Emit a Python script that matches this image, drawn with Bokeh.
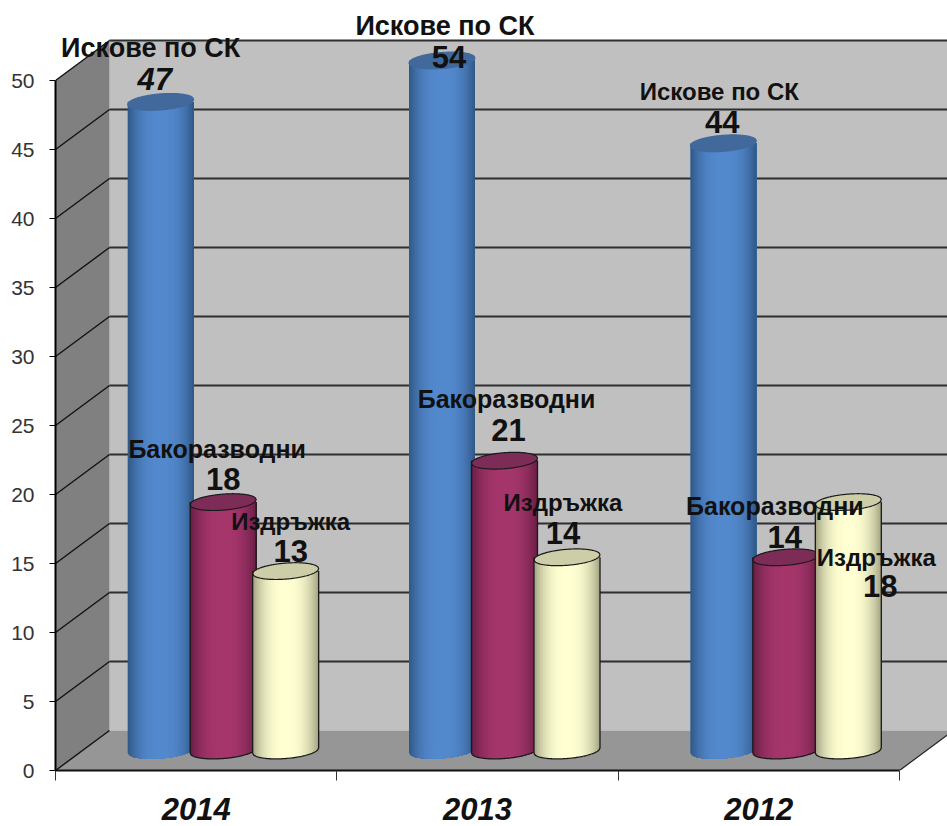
import numpy as np
from bokeh.plotting import figure
from bokeh.models import Range1d, LinearAxis, FixedTicker
from bokeh.core.properties import value as V
from bokeh.embed import file_html
from bokeh.resources import INLINE

# ---- data ----
YEARS = ["2014", "2013", "2012"]
SERIES_NAMES = ["Искове по СК", "Бакоразводни", "Издръжка"]
ISKOVE = [47, 54, 44]
BAKORAZVODNI = [18, 21, 14]
IZDRAJKA = [13, 14, 18]
Y_TICKS = [0, 5, 10, 15, 20, 25, 30, 35, 40, 45, 50]
AXIS_MAX = 50

# ---- styling ----
BAR_EDGE = ["#2f5685", "#661d44", "#a0a080"]
BAR_MID = ["#5389cd", "#a5366b", "#ffffd2"]
BAR_TOP = ["#41699c", "#7c2c57", "#cdcda8"]
BAR_OUTLINE = [None, "#1a1a1a", "#1a1a1a"]

PX_X = 281.33            # pixels per category
PX_Y = 13.8              # pixels per value unit
DEPTH_X = 54 / PX_X
DEPTH_Y = 40 / PX_Y
W, H = 947, 826
L, B = 55, 56
xmax = (W - L) / PX_X
ymax = (H - B) / PX_Y

p = figure(width=W, height=H, output_backend="svg", toolbar_location=None,
           x_range=Range1d(0, xmax), y_range=Range1d(0, ymax),
           x_axis_type=None, y_axis_type=None, min_border_left=L, min_border_bottom=B,
           min_border_right=0, min_border_top=0, outline_line_color=None)
p.grid.visible = False
p.background_fill_color = "white"

# walls and floor
p.patch([DEPTH_X, DEPTH_X + 3, DEPTH_X + 3, DEPTH_X],
        [DEPTH_Y, DEPTH_Y, AXIS_MAX + DEPTH_Y, AXIS_MAX + DEPTH_Y],
        fill_color="#c0c0c0", line_color=None)
p.patch([0, DEPTH_X, DEPTH_X, 0], [0, DEPTH_Y, AXIS_MAX + DEPTH_Y, AXIS_MAX],
        fill_color="#808080", line_color=None)
p.patch([0, 3, 3 + DEPTH_X, DEPTH_X], [0, 0, DEPTH_Y, DEPTH_Y],
        fill_color="#969696", line_color=None)
p.line([3, 3 + DEPTH_X], [0, DEPTH_Y], line_color="#222222", line_width=1.2)

# grid
for t in Y_TICKS[1:]:
    p.line([DEPTH_X, DEPTH_X + 3], [t + DEPTH_Y, t + DEPTH_Y], line_color="#2e2e2e", line_width=2)
for t in Y_TICKS:
    p.line([0, DEPTH_X], [t, t + DEPTH_Y], line_color="#111111", line_width=1.4)

# cylinders
BAR_W = 66 / PX_X
STEP = 62.5 / PX_X
ELL_B = 8 / PX_Y
ELL_TILT = 2.5 / PX_Y
N = 44
tt = np.linspace(-1, 1, N + 1)


def ell_lower(c, t):
    return c + ELL_TILT * t - ELL_B * np.sqrt(np.clip(1 - t * t, 0, 1))


def ell_upper(c, t):
    return c + ELL_TILT * t + ELL_B * np.sqrt(np.clip(1 - t * t, 0, 1))


def mix(a, b, f):
    ca = [int(a[i:i + 2], 16) for i in (1, 3, 5)]
    cb = [int(b[i:i + 2], 16) for i in (1, 3, 5)]
    return "#%02x%02x%02x" % tuple(int(round(x + (y - x) * f)) for x, y in zip(ca, cb))


SERIES = [ISKOVE, BAKORAZVODNI, IZDRAJKA]
base = DEPTH_Y / 2
for gi in range(len(YEARS)):
    gc = gi + 0.5 + DEPTH_X / 2
    for si, vals in enumerate(SERIES):
        cx = gc + (si - 1) * STEP
        hw = BAR_W / 2
        top = min(vals[gi], AXIS_MAX) + base
        xs, ys, cols = [], [], []
        for k in range(N):
            tc = (tt[k] + tt[k + 1]) / 2
            f = 1 - min(abs(tc) / 1.0, 1) ** 2.6
            rest = tt[k:]
            xs.append(list(cx + rest * hw) + [cx + hw, cx + tt[k] * hw])
            ys.append(list(ell_lower(base, rest)) + [top, top])
            cols.append(mix(BAR_EDGE[si], BAR_MID[si], f))
        p.patches(xs, ys, fill_color=cols, line_color=None)
        fine = np.linspace(-1, 1, 81)
        ex = list(cx + fine * hw) + list(cx + fine[::-1] * hw)
        ey = list(ell_lower(top, fine)) + list(ell_upper(top, fine[::-1]))
        p.patch(ex, ey, fill_color=BAR_TOP[si], line_color=BAR_OUTLINE[si] or BAR_TOP[si], line_width=1.2)
        if BAR_OUTLINE[si]:
            ox = [cx - hw] + list(cx + fine * hw) + [cx + hw]
            oy = [top] + list(ell_lower(base, fine)) + [top]
            p.line(ox, oy, line_color=BAR_OUTLINE[si], line_width=1.3)

# labels: pixel offsets from each bar's top centre
NAME_OFF = [[(-10, -54), (3, -35), (-4, -52)],
            [(-6, -53), (2, -62), (-11, -51)],
            [(5, -50), (-4, -55), (28, 55)]]
VAL_OFF = [[(-6, -23), (7, -4), (-1, -21)],
           [(0, -23), (4, -31), (-1, -20)],
           [(5, -20), (-4, -24), (32, 84)]]
NAME_SIZE = [["27px", "27px", "24px"],
             ["25px", "25px", "25px"],
             ["24px", "24px", "24px"]]
for si, vals in enumerate(SERIES):
    for gi in range(len(YEARS)):
        gc = gi + 0.5 + DEPTH_X / 2
        cx = gc + (si - 1) * STEP
        top = min(vals[gi], AXIS_MAX) + base
        p.text([cx], [top], text=[SERIES_NAMES[si]], text_font=V("Liberation Sans"),
               text_font_size=NAME_SIZE[si][gi], text_font_style="bold", text_color="#111111",
               text_align="center", text_baseline="middle",
               x_offset=NAME_OFF[si][gi][0], y_offset=NAME_OFF[si][gi][1])
        p.text([cx], [top], text=[str(vals[gi])], text_font=V("Liberation Sans"),
               text_font_size="31px",
               text_font_style="bold italic" if (gi == 0 and si == 0) else "bold",
               text_color="#111111", text_align="center", text_baseline="middle",
               x_offset=VAL_OFF[si][gi][0], y_offset=VAL_OFF[si][gi][1])

# axes
ya = LinearAxis(ticker=FixedTicker(ticks=Y_TICKS), bounds=(0, AXIS_MAX))
ya.axis_line_color = "black"
ya.axis_line_width = 2
ya.major_tick_line_color = "black"
ya.major_tick_out = 6
ya.major_tick_in = 0
ya.minor_tick_line_color = None
ya.major_label_text_font = "Liberation Sans"
ya.major_label_text_font_size = "21px"
ya.major_label_text_color = "#333333"
ya.major_label_standoff = 15
p.add_layout(ya, "left")

xa = LinearAxis(ticker=FixedTicker(ticks=[0.5, 1.5, 2.5], minor_ticks=[0, 1, 2, 3]), bounds=(0, 3))
xa.major_label_overrides = {0.5: YEARS[0], 1.5: YEARS[1], 2.5: YEARS[2]}
xa.axis_line_color = "#111111"
xa.axis_line_width = 2
xa.major_tick_line_color = None
xa.major_tick_out = 0
xa.major_tick_in = 0
xa.minor_tick_line_color = "#333333"
xa.minor_tick_out = 10
xa.minor_tick_in = 0
xa.major_label_text_font = "Liberation Sans"
xa.major_label_text_font_size = "31px"
xa.major_label_text_font_style = "bold italic"
xa.major_label_text_color = "#111111"
xa.major_label_standoff = 17
p.add_layout(xa, "below")

open("out.html", "w").write(file_html(p, INLINE))
